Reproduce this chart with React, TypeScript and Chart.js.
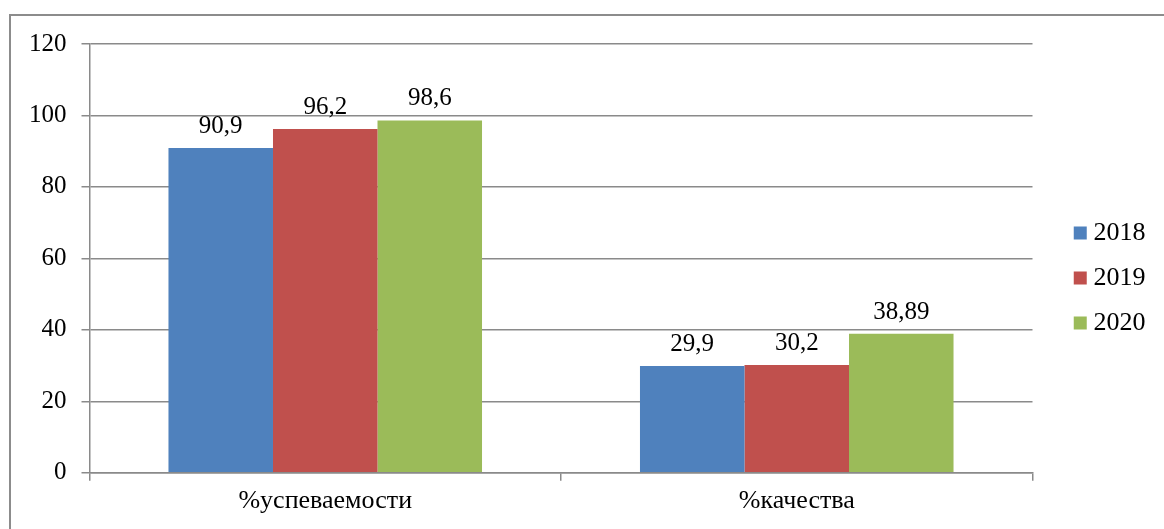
import React, { useEffect, useRef } from "react";
import { Chart, registerables } from "chart.js";

Chart.register(...registerables);

const categories = ["%успеваемости", "%качества"];
const seriesNames = ["2018", "2019", "2020"];
const values2018 = [90.9, 29.9];
const values2019 = [96.2, 30.2];
const values2020 = [98.6, 38.89];
const seriesColors = ["#4F81BD", "#C0504D", "#9BBB59"];
const yMin = 0;
const yMax = 120;
const yStep = 20;

const FONT = "Liberation Serif";
const GRID = "#8a8a8a";

Chart.defaults.font.family = FONT;
Chart.defaults.color = "#000";

const dataLabelPlugin = {
  id: "dataLabels",
  afterDatasetsDraw(chart: any) {
    const ctx = chart.ctx;
    ctx.save();
    ctx.font = `25px "${FONT}"`;
    ctx.fillStyle = "#000";
    ctx.textAlign = "center";
    ctx.textBaseline = "alphabetic";
    chart.data.datasets.forEach((ds: any, di: number) => {
      const meta = chart.getDatasetMeta(di);
      meta.data.forEach((el: any, i: number) => {
        const txt = String(ds.data[i]).replace(".", ",");
        ctx.fillText(txt, el.x, el.y - 15);
      });
    });
    ctx.restore();
  },
};

export default function App() {
  const ref = useRef<HTMLCanvasElement | null>(null);
  useEffect(() => {
    if (!ref.current) return;
    const all = [values2018, values2019, values2020];
    const chart = new Chart(ref.current, {
      type: "bar",
      data: {
        labels: categories,
        datasets: seriesNames.map((n, i) => ({
          label: n,
          data: all[i],
          backgroundColor: seriesColors[i],
          borderWidth: 0,
          categoryPercentage: 0.665,
          barPercentage: 1,
        })),
      },
      options: {
        animation: false,
        responsive: false,
        maintainAspectRatio: false,
        devicePixelRatio: 1,
        layout: { padding: { left: 14, top: 34, right: 8.5, bottom: 7 } },
        plugins: {
          tooltip: { enabled: false },
          title: {
            display: true,
            text: " ",
            position: "top",
            fullSize: false,
            padding: 0,
            font: { size: 10, lineHeight: 1 },
          },
          legend: {
            position: "right",
            labels: {
              font: { family: FONT, size: 26 },
              color: "#000",
              usePointStyle: true,
              pointStyle: "rect",
              boxWidth: 0.5,
              boxHeight: 13,
              padding: 19,
            },
          },
        },
        scales: {
          x: {
            grid: {
              drawOnChartArea: false,
              drawTicks: true,
              tickLength: 8,
              color: GRID,
              lineWidth: 1.5,
            },
            border: { display: true, color: GRID, width: 1.5 },
            ticks: {
              font: { family: FONT, size: 26 },
              color: "#000",
              padding: 5,
            },
          },
          y: {
            min: yMin,
            max: yMax,
            ticks: {
              stepSize: yStep,
              font: { family: FONT, size: 25 },
              color: "#000",
              padding: 15,
            },
            grid: {
              color: GRID,
              lineWidth: 1.5,
              tickLength: 8,
              drawTicks: true,
            },
            border: { display: true, color: GRID, width: 1.5 },
          },
          y2: {
            position: "right",
            display: true,
            min: yMin,
            max: yMax,
            grid: { display: false, drawTicks: false },
            ticks: { display: false },
            border: { display: false },
            afterFit: (s: any) => {
              s.width = 28.5;
            },
          },
        },
      },
      plugins: [dataLabelPlugin],
    });
    return () => chart.destroy();
  }, []);

  return (
    <div
      style={{
        position: "fixed",
        left: 0,
        top: 0,
        width: 1164,
        height: 529,
        overflow: "hidden",
        background: "#fff",
      }}
    >
      <div
        style={{
          position: "absolute",
          left: 9,
          top: 14,
          width: 1300,
          height: 700,
          border: "2px solid #8c8c8c",
        }}
      />
      <canvas
        ref={ref}
        width={1164}
        height={529}
        style={{ position: "absolute", left: 0, top: 0, width: 1164, height: 529 }}
      />
    </div>
  );
}
